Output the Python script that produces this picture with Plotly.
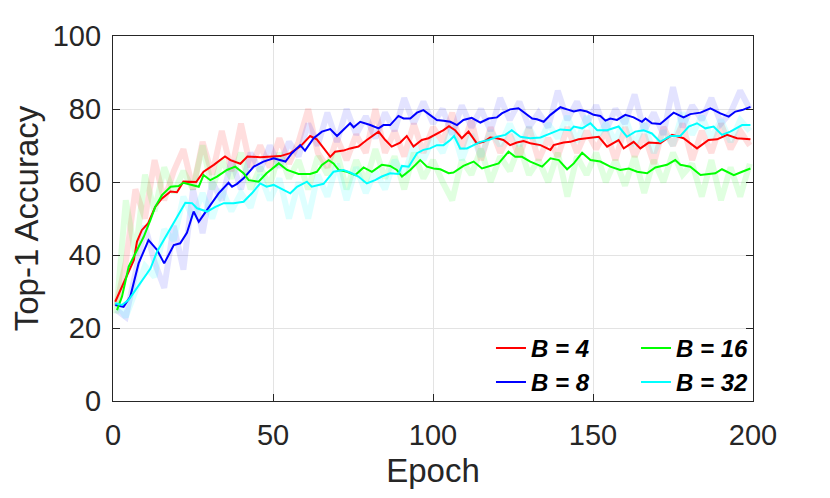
import plotly.graph_objects as go

# ---------------- data ----------------
raw_epochs = [1, 4, 7, 10, 13, 16, 19, 22, 25, 28, 31, 34, 37, 40, 43, 46, 49, 52, 55, 58,
              61, 64, 67, 70, 73, 76, 79, 82, 85, 88, 91, 94, 97, 100, 103, 106, 109, 112, 115, 118,
              121, 124, 127, 130, 133, 136, 139, 142, 145, 148, 151, 154, 157, 160, 163, 166, 169, 172, 175, 178,
              181, 184, 187, 190, 193, 196, 199]

raw_b4 = [26, 38, 58, 50, 66, 55, 63, 69, 58, 71, 62, 74, 63, 76, 64, 70, 64, 72, 65, 71,
          80, 68, 64, 72, 66, 73, 68, 80, 68, 74, 67, 76, 68, 75, 71, 79, 69, 77, 66, 75,
          68, 73, 67, 75, 66, 72, 67, 75, 68, 74, 69, 74, 66, 75, 67, 73, 65, 75, 70, 76,
          66, 74, 68, 76, 69, 74, 70]
raw_b8 = [25, 23, 35, 48, 38, 31, 48, 36, 58, 46, 60, 55, 66, 58, 68, 63, 70, 64, 71, 67,
          76, 70, 79, 71, 80, 73, 78, 72, 79, 74, 83, 76, 82, 76, 80, 73, 81, 75, 80, 74,
          83, 77, 82, 75, 79, 75, 85, 77, 82, 76, 81, 74, 80, 76, 84, 74, 79, 73, 86, 75,
          81, 77, 83, 76, 79, 85, 80]
raw_b16 = [24, 55, 40, 62, 52, 64, 57, 63, 58, 70, 58, 66, 61, 68, 58, 64, 59, 68, 61, 66,
           58, 67, 62, 68, 58, 66, 60, 69, 61, 67, 58, 68, 61, 66, 60, 55, 66, 62, 69, 60,
           67, 63, 70, 62, 66, 60, 68, 56, 67, 62, 68, 60, 66, 59, 67, 57, 66, 60, 68, 62,
           65, 56, 66, 55, 64, 56, 65]
raw_b32 = [27, 23, 30, 37, 34, 47, 44, 56, 50, 57, 50, 58, 52, 57, 53, 62, 55, 61, 50, 60,
           50, 62, 56, 65, 55, 64, 57, 63, 58, 66, 62, 70, 66, 72, 68, 75, 66, 73, 67, 74,
           70, 76, 70, 75, 70, 76, 72, 78, 71, 78, 72, 76, 71, 78, 70, 76, 68, 74, 70, 79,
           73, 78, 72, 77, 71, 77, 74]

sm_b4_x = [0.7, 3.3, 6.5, 7.5, 9, 11, 13.2, 15.3, 18, 20, 22, 26, 28.3, 31.5, 35, 36.7, 39.8, 42, 46, 52.3,
           55.4, 58.5, 61.6, 63.7, 65.8, 67.9, 69.4, 72, 74.1, 76.7, 79.3, 80.9, 83, 85.1, 87.1, 89.75, 91.8, 93.9, 96.5, 98.6,
           101.2, 103.3, 105, 106.9, 109, 111.1, 113.7, 115.8, 117.9, 120, 122, 124.1, 126.2, 128.3, 130.4, 133.6, 136.7, 137.7, 140.8, 142.9,
           145.5, 149.2, 151.8, 154.4, 158, 159.6, 162.7, 164.8, 167.4, 171, 174.7, 178.3, 182.5, 186.1, 188.8, 191.9, 195, 199.2]
sm_b4_y = [27.2, 32.2, 38.6, 43.7, 46.8, 48.7, 53.2, 55.5, 57.4, 57.2, 60.1, 60, 62.8, 64.7, 67, 66, 65, 67, 66.8, 67.1,
           67.9, 69.7, 72.6, 71.7, 69.2, 66.9, 68.3, 68.6, 69.2, 69.7, 71.5, 72.4, 73.8, 71.5, 69.7, 70.8, 72.6, 69.7, 71.5, 72,
           73.1, 74.2, 75.3, 74.2, 72, 73.8, 70.6, 71, 72.2, 72, 71.5, 70.1, 70.8, 71.2, 70.6, 70.1, 68.8, 70.1, 70.8, 71,
           71.7, 72, 72.4, 69.7, 71.5, 69.2, 71, 69.2, 70.8, 70.6, 72.9, 72, 69.2, 71.5, 71.7, 72.9, 72, 71.7]

sm_b8_x = [0.7, 3.3, 5.4, 8, 11.1, 13.75, 16, 19, 21, 23.1, 25.2, 26.8, 28.3, 30.9, 33, 36.1, 37.2, 38.75, 40.8, 44,
           47, 50.2, 53.9, 55.9, 58.5, 60, 62.7, 65.3, 67.9, 70, 72, 74.1, 75.2, 77.25, 80.4, 83, 84.5, 86.6, 89.2, 90.8,
           92.9, 95, 97, 99.6, 101.2, 103.3, 105.4, 107.5, 109.5, 112.1, 114.8, 117.4, 120, 121.5, 124.1, 126.7, 129.4, 131, 132.5, 134.6,
           136.7, 139.8, 141.9, 144, 146, 148.1, 150.2, 152.3, 153.9, 155.4, 157.5, 160.1, 162.7, 165.3, 166.4, 168.4, 171, 173.1, 175.2, 178.3,
           180.4, 183.6, 186.7, 189.8, 192.4, 194.5, 196.6, 199.2]
sm_b8_y = [26.3, 25.8, 28.6, 37.7, 44.1, 41.4, 37.7, 42.7, 43.2, 46.1, 51.9, 49.1, 51, 54.2, 56.9, 59.8, 58.7, 59.5, 61, 64.2,
           65.6, 66.5, 65.6, 67.9, 70.1, 68.6, 72, 73.8, 74.5, 72.6, 74.2, 76.1, 75, 76.5, 75.6, 74.7, 75.6, 75.6, 78.1, 77.4,
           77.4, 79, 79.7, 78.1, 77, 76.8, 76.5, 75.6, 77, 77.6, 76.3, 77.4, 77.7, 78.8, 79.9, 80.2, 78.4, 77.4, 77.2, 76.5,
           78.4, 80.5, 79.9, 79.3, 79.7, 79.3, 78.4, 78.1, 76.8, 77.4, 77, 78.4, 77.7, 76.5, 77.4, 76.1, 75.9, 77.4, 79, 77.7,
           78.6, 79, 80.2, 78.8, 77.9, 79.3, 79.7, 80.6]

sm_b16_x = [1.25, 2.8, 4.9, 7.5, 9.6, 11.7, 13.2, 15.3, 18, 20.5, 22, 26.8, 28.3, 30.4, 32.5, 35.6, 38.2, 40.8, 42.4, 45.5,
            48, 51.8, 54.4, 58, 61.6, 63.7, 65.3, 67.4, 68.9, 70.5, 73.1, 75.7, 78.3, 80.9, 84, 86.6, 88.7, 90.3, 92.9, 96,
            98.1, 100.2, 102.3, 104.9, 106.4, 109.5, 112.7, 115.3, 117.9, 120.5, 123.6, 125.7, 127.8, 130.4, 134.1, 136.7, 139.3, 141.9, 144, 146.6,
            149.2, 152.3, 155.4, 158.5, 161.2, 163.8, 166.9, 169.5, 173.1, 175.7, 177.3, 180.4, 183.6, 185.6, 188.2, 190.3, 194, 196.6, 199.2]
sm_b16_y = [24.9, 28.6, 36.8, 41.4, 45, 49.6, 53.2, 56.4, 58.7, 58.9, 59.8, 58.7, 61.9, 60.5, 61.5, 63.3, 64.2, 62.4, 60.5, 60.1,
            62.4, 65.1, 63.3, 62.2, 62.2, 62.8, 64.7, 66, 65.1, 63.3, 62.8, 61.9, 64, 62.8, 64.7, 64.4, 63.3, 61.5, 63.3, 66,
            64.2, 63.7, 63.5, 62.4, 62.6, 64.4, 65.6, 63.7, 64.4, 65.1, 68.3, 66.9, 66.9, 65.6, 64.2, 66.5, 66, 63.5, 65.1, 68,
            66, 65.6, 64.2, 63.3, 63.7, 62.8, 62.4, 64, 64.7, 66, 64.7, 64.2, 61.9, 62.2, 62.4, 63.5, 61.9, 62.8, 63.7]

sm_b32_x = [0.7, 2.8, 4.9, 7.5, 9.6, 11.7, 13.75, 16.4, 19, 21, 22.6, 24.7, 26.25, 29.4, 32, 34.6, 37.7, 40.8, 43.4, 46,
            48, 50.2, 53.3, 55.4, 57.5, 60.6, 62.1, 65.8, 68.9, 72, 74.1, 76.7, 79.3, 81.9, 84, 86.6, 89.2, 90.3, 92.4, 95,
            97, 99.1, 101.2, 103.3, 105.4, 106.6, 108.5, 110.6, 112.7, 114.8, 117.4, 120, 122.6, 124.6, 127.3, 130.4, 133.6, 136.7, 139.8, 142.9,
            144, 146.6, 149.2, 151.3, 154.4, 158, 160.6, 163.2, 165.8, 168.4, 171, 174.2, 177.3, 179.9, 182.5, 185.1, 187.7, 190.3, 192.9, 196.6, 199.2]
sm_b32_y = [26.8, 26.3, 27.7, 30.9, 33.6, 36.3, 40.9, 45, 48.7, 51.9, 54.3, 54.2, 52.8, 51.9, 53.2, 54.2, 54.2, 54.6, 56.9, 59.6,
            58.7, 59.2, 57.8, 56.9, 58.7, 60.1, 58.7, 59.5, 62.8, 63.3, 62.6, 61.5, 59.6, 60.5, 61.5, 62.4, 62.2, 64.4, 64.2, 67.9,
            68.8, 69.2, 70.1, 70.1, 71.5, 72.6, 69.2, 69.2, 70.1, 71, 71.5, 72.4, 72.9, 74.2, 72.4, 72, 72.2, 73.3, 74.4, 74.2,
            75.2, 74.7, 76.1, 74.2, 74.2, 75.2, 72.4, 73.8, 74.2, 73.3, 71, 72.6, 72.6, 75.2, 76.1, 74.7, 75.2, 72.9, 73.8, 75.6, 75.6]

names = ["B = 4", "B = 8", "B = 16", "B = 32"]
x_ticks = [0, 50, 100, 150, 200]
y_ticks = [0, 20, 40, 60, 80, 100]

# ---------------- figure ----------------
colors = ["rgb(255,0,0)", "rgb(0,0,255)", "rgb(0,255,0)", "rgb(0,255,255)"]
faint = ["rgba(255,0,0,0.13)", "rgba(0,0,255,0.11)", "rgba(0,255,0,0.12)", "rgba(0,255,255,0.13)"]
raws = [raw_b4, raw_b8, raw_b16, raw_b32]
smx = [sm_b4_x, sm_b8_x, sm_b16_x, sm_b32_x]
smy = [sm_b4_y, sm_b8_y, sm_b16_y, sm_b32_y]
legends = ["legend", "legend", "legend2", "legend2"]

fig = go.Figure()
for i in range(4):
    fig.add_trace(go.Scatter(x=raw_epochs, y=raws[i], mode="lines",
                             line=dict(color=faint[i], width=6),
                             showlegend=False, hoverinfo="skip"))
for i in range(4):
    fig.add_trace(go.Scatter(x=smx[i], y=smy[i], mode="lines", name=names[i],
                             line=dict(color=colors[i], width=2),
                             legend=legends[i]))

axis_color = "#262626"
font_family = "Liberation Sans, Arial, Helvetica, sans-serif"
legend_font = dict(family=font_family, size=24, color="black", weight="bold", style="italic")

fig.update_layout(
    width=830, height=498,
    margin=dict(l=105, r=85, t=28, b=105),
    paper_bgcolor="white", plot_bgcolor="white",
    font=dict(family=font_family, color=axis_color),
    legend=dict(x=0.5906, y=0.206, xanchor="left", yanchor="top",
                bgcolor="rgba(0,0,0,0)", font=legend_font, tracegroupgap=0),
    legend2=dict(x=0.8172, y=0.206, xanchor="left", yanchor="top",
                 bgcolor="rgba(0,0,0,0)", font=legend_font, tracegroupgap=0),
)
fig.update_xaxes(range=[0, 200], tickvals=x_ticks, ticks="inside", ticklen=7,
                 tickcolor=axis_color, showline=True, linecolor=axis_color, linewidth=1.3,
                 mirror="ticks", showgrid=True, gridcolor="#e3e3e3", gridwidth=1,
                 zeroline=False, tickfont=dict(size=29, color=axis_color), ticklabelstandoff=8,
                 title=dict(text="Epoch", font=dict(size=33, color=axis_color), standoff=8))
fig.update_yaxes(range=[0, 100], tickvals=y_ticks, ticks="inside", ticklen=7,
                 tickcolor=axis_color, showline=True, linecolor=axis_color, linewidth=1.3,
                 mirror="ticks", showgrid=True, gridcolor="#e3e3e3", gridwidth=1,
                 zeroline=False, tickfont=dict(size=29, color=axis_color), ticklabelstandoff=5,
                 title=dict(text="Top-1 Accuracy", font=dict(size=33, color=axis_color), standoff=8))

fig.write_html("out.html")
